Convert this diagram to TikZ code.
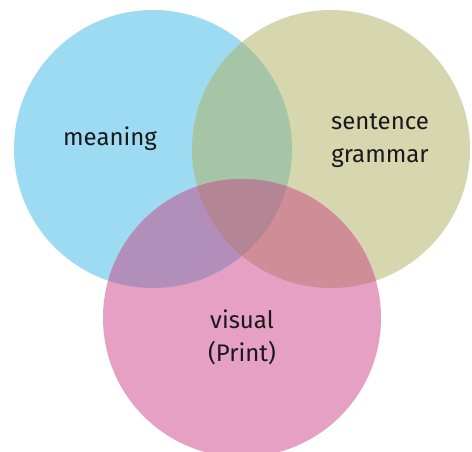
\documentclass[tikz,border=0pt]{standalone}
\usepackage{fontspec}
\setmainfont{Fira Sans}
\definecolor{cblue}{RGB}{157,219,242}
\definecolor{colive}{RGB}{214,214,175}
\definecolor{cpink}{RGB}{229,160,196}
\definecolor{cbo}{RGB}{166,196,166}
\definecolor{cbp}{RGB}{178,142,187}
\definecolor{cop}{RGB}{207,141,152}
\definecolor{cbop}{RGB}{180,133,149}
\definecolor{ctext}{RGB}{25,25,25}
\begin{document}
\begin{tikzpicture}[x=1pt,y=-1pt,
  setcircle/.style={circle,inner sep=0pt,outer sep=0pt,minimum size=278pt,draw=none},
  label/.style={text=ctext,align=center,font=\fontsize{24}{33}\selectfont,inner sep=0pt}]
\useasboundingbox (0,0) rectangle (472,452);
\begin{scope}
\clip (0,0) rectangle (472,452);
\node[setcircle,fill=cblue] (blue) at (153,149) {};
\node[setcircle,fill=colive] (olive) at (331,149) {};
\node[setcircle,fill=cpink] (pink) at (242,318) {};
\begin{scope}
  \clip (153,149) circle (139);
  \fill[cbo] (331,149) circle (139);
  \fill[cbp] (242,318) circle (139);
\end{scope}
\begin{scope}
  \clip (331,149) circle (139);
  \fill[cop] (242,318) circle (139);
  \clip (153,149) circle (139);
  \fill[cbop] (242,318) circle (139);
\end{scope}
\end{scope}
\node[label,anchor=base] (meaning) at (110,146) {meaning};
\node[label,anchor=base] (sentence) at (380,163) {sentence\\grammar};
\node[label,anchor=base] (visual) at (242,361) {visual\\(Print)};
\end{tikzpicture}
\end{document}
